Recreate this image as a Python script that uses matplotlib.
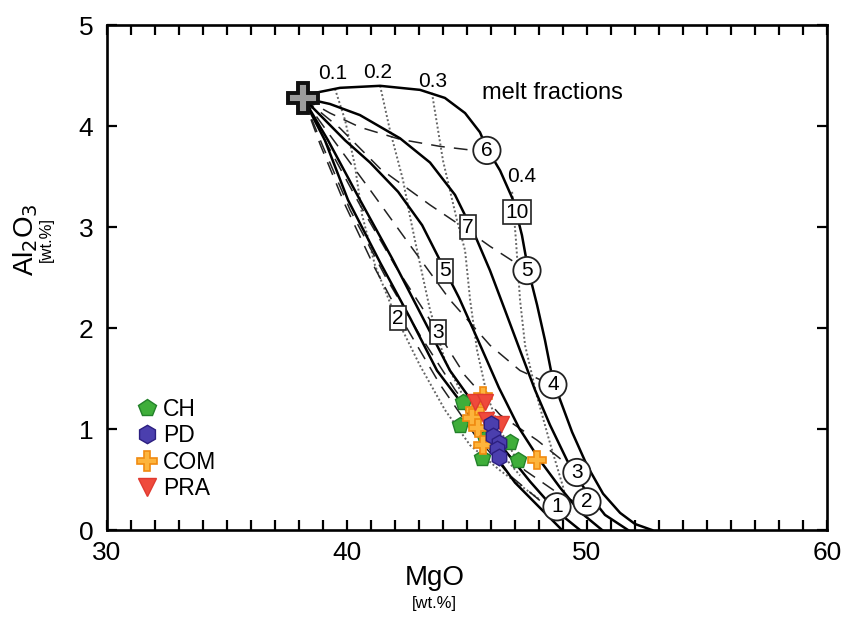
import matplotlib
matplotlib.use("Agg")
import matplotlib.pyplot as plt
from matplotlib.ticker import MultipleLocator

plt.rcParams['font.family'] = ['Liberation Sans', 'DejaVu Sans']

# ---- source composition ----
source = (38.17, 4.28)

# ---- residue trends (solid) ----
s1_x = [38.17, 38.67, 39.71, 41.38, 43.04, 44.08, 44.92, 45.54, 45.83, 46.38, 46.92, 47.29, 47.54, 47.92, 48.25, 48.54, 48.88, 49.38, 50.0, 50.67, 51.38, 52.0, 52.71]
s1_y = [4.28, 4.33, 4.38, 4.40, 4.36, 4.28, 4.13, 3.94, 3.78, 3.56, 3.27, 2.92, 2.59, 2.23, 1.88, 1.53, 1.29, 0.97, 0.64, 0.36, 0.17, 0.06, 0.0]
s2_x = [38.17, 39.29, 40.54, 42.21, 43.46, 44.5, 45.33, 45.96, 46.58, 47.21, 47.83, 48.46, 49.17, 49.92, 50.75, 51.71]
s2_y = [4.28, 4.22, 4.11, 3.88, 3.64, 3.32, 2.92, 2.57, 2.18, 1.78, 1.39, 1.04, 0.69, 0.40, 0.15, 0.0]
s3_x = [38.17, 38.88, 39.92, 40.96, 42.13, 43.13, 43.92, 44.67, 45.46, 46.33, 47.17, 48.04, 48.88, 49.71, 50.63]
s3_y = [4.28, 4.11, 3.86, 3.64, 3.35, 3.02, 2.65, 2.30, 1.88, 1.41, 1.01, 0.69, 0.42, 0.18, 0.0]
s4_x = [38.17, 39.21, 40.54, 41.88, 43.25, 44.29, 45.46, 46.58, 47.63, 48.67, 49.71]
s4_y = [4.28, 3.86, 3.27, 2.69, 2.06, 1.58, 1.19, 0.79, 0.48, 0.20, 0.0]
s5_x = [38.17, 39.08, 40.04, 41.38, 42.63, 43.75, 44.83, 45.96, 47.0, 48.04, 48.96]
s5_y = [4.28, 3.86, 3.27, 2.65, 2.10, 1.58, 1.24, 0.81, 0.47, 0.22, 0.0]
solid_x = [s1_x, s2_x, s3_x, s4_x, s5_x]
solid_y = [s1_y, s2_y, s3_y, s4_y, s5_y]

# ---- isobaric trends (dashed) ----
d6_x = [38.17, 39.29, 40.54, 42.21, 43.88, 45.29]
d6_y = [4.28, 4.13, 3.99, 3.87, 3.80, 3.76]
d5_x = [38.17, 39.71, 41.38, 43.46, 44.71, 45.96, 47.0]
d5_y = [4.28, 3.98, 3.58, 3.22, 3.02, 2.81, 2.65]
d4_x = [38.17, 39.29, 40.96, 42.63, 44.29, 45.96, 47.21, 48.04]
d4_y = [4.28, 3.91, 3.37, 2.82, 2.28, 1.83, 1.58, 1.49]
d3_x = [38.17, 39.08, 40.54, 42.0, 43.46, 44.92, 46.38, 47.92, 49.08]
d3_y = [4.28, 3.86, 3.22, 2.62, 2.08, 1.53, 1.14, 0.89, 0.67]
d2_x = [38.17, 38.96, 40.13, 41.58, 43.04, 44.5, 45.96, 47.42, 48.88, 49.5]
d2_y = [4.28, 3.82, 3.17, 2.52, 1.93, 1.39, 0.92, 0.59, 0.35, 0.28]
d1_x = [38.17, 38.88, 39.92, 41.17, 42.42, 43.88, 45.33, 46.79, 48.25]
d1_y = [4.28, 3.82, 3.22, 2.59, 2.03, 1.44, 0.94, 0.54, 0.25]
dashed_x = [d6_x, d5_x, d4_x, d3_x, d2_x, d1_x]
dashed_y = [d6_y, d5_y, d4_y, d3_y, d2_y, d1_y]

# ---- melt fraction contours (dotted) ----
f1_x = [39.5, 39.92, 40.33, 40.63, 41.17, 42.0, 43.04, 44.08, 45.13, 46.38, 48.04]
f1_y = [4.37, 4.06, 3.61, 3.12, 2.62, 2.13, 1.63, 1.19, 0.84, 0.59, 0.30]
f2_x = [41.38, 41.79, 42.33, 42.63, 42.92, 43.46, 44.08, 44.92, 45.96, 47.21]
f2_y = [4.40, 3.96, 3.47, 3.10, 2.77, 2.18, 1.68, 1.29, 0.89, 0.54]
f3_x = [43.54, 44.0, 44.58, 44.92, 45.13, 45.42, 45.83, 46.38, 47.21]
f3_y = [4.33, 3.66, 3.07, 2.77, 2.28, 1.78, 1.34, 0.99, 0.64]
f4_x = [46.88, 47.04, 47.21, 47.42, 47.92, 48.46, 49.0, 49.29]
f4_y = [3.35, 2.87, 2.28, 1.83, 1.32, 0.86, 0.43, 0.15]
dotted_x = [f1_x, f2_x, f3_x, f4_x]
dotted_y = [f1_y, f2_y, f3_y, f4_y]

melt_labels = ['0.1', '0.2', '0.3', '0.4']
melt_label_x = [39.42, 41.29, 43.58, 47.29]
melt_label_y = [4.52, 4.53, 4.44, 3.50]

circle_labels = ['6', '5', '4', '3', '2', '1']
circle_x = [45.83, 47.5, 48.58, 49.58, 50.0, 48.75]
circle_y = [3.76, 2.57, 1.44, 0.57, 0.28, 0.23]

box_labels = ['10', '7', '5', '3', '2']
box_x = [47.08, 45.04, 44.08, 43.79, 42.13]
box_y = [3.15, 3.0, 2.57, 1.96, 2.10]

# ---- samples ----
ch_mgo = [44.83, 44.71, 45.75, 46.79, 45.63, 47.13]
ch_al = [1.27, 1.04, 0.91, 0.87, 0.71, 0.69]
pd_mgo = [46.0, 46.08, 46.33, 46.25, 46.33]
pd_al = [1.05, 0.93, 0.86, 0.80, 0.72]
com_mgo = [45.67, 45.33, 45.21, 45.46, 45.67, 47.92]
com_al = [1.33, 1.19, 1.11, 1.01, 0.84, 0.69]
pra_mgo = [45.33, 45.75, 45.79, 46.42]
pra_al = [1.27, 1.27, 1.09, 1.05]

fig = plt.figure(figsize=(8.46, 6.31), dpi=100)
ax = fig.add_axes([0.1265, 0.16, 0.851, 0.800])

for xs, ys in zip(dotted_x, dotted_y):
    ax.plot(xs, ys, color='#666666', lw=1.4, ls=(0, (1, 1.2)), zorder=2)
for xs, ys in zip(dashed_x, dashed_y):
    ax.plot(xs, ys, color='#222222', lw=1.1, ls=(0, (9, 6)), zorder=2)
for xs, ys in zip(solid_x, solid_y):
    ax.plot(xs, ys, color='black', lw=1.8, zorder=3)

for t, x, y in zip(melt_labels, melt_label_x, melt_label_y):
    ax.text(x, y, t, fontsize=15, ha='center', va='center', zorder=6)
ax.text(48.58, 4.33, 'melt fractions', fontsize=17, ha='center', va='center', zorder=6)

for t, x, y in zip(circle_labels, circle_x, circle_y):
    ax.text(x, y, t, fontsize=15, ha='center', va='center', zorder=7,
            bbox=dict(boxstyle='circle,pad=0.2', fc='white', ec='#222222', lw=1.3))
for t, x, y in zip(box_labels, box_x, box_y):
    ax.text(x, y, t, fontsize=15, ha='center', va='center', zorder=7,
            bbox=dict(boxstyle='square,pad=0.12', fc='white', ec='#222222', lw=1.2))

ax.plot(*source, marker='P', ms=21, mfc='#9c9c9c', mec='#111111', mew=2.8, ls='none', zorder=8)

ax.plot(ch_mgo, ch_al, 'p', ms=12, mfc='#3fae3a', mec='#23812a', mew=1.0, ls='none', zorder=9, label='CH')
ax.plot(pd_mgo, pd_al, 'h', ms=12, mfc='#4b3fae', mec='#2c1f80', mew=1.0, ls='none', zorder=10, label='PD')
ax.plot(com_mgo, com_al, 'P', ms=13, mfc='#fdb43c', mec='#f08a10', mew=1.2, ls='none', zorder=9, label='COM')
ax.plot(pra_mgo, pra_al, 'v', ms=12, mfc='#ef4a3c', mec='#e03a30', mew=1.0, ls='none', zorder=9, label='PRA')

leg = ax.legend(loc='upper left', bbox_to_anchor=(0.035, 0.262), frameon=False,
                fontsize=16.5, handletextpad=0.05, labelspacing=0.15, borderaxespad=0,
                handlelength=1.3, borderpad=0, markerscale=1.1)

ax.set_xlim(30, 60)
ax.set_ylim(0, 5)
ax.xaxis.set_major_locator(MultipleLocator(10))
ax.xaxis.set_minor_locator(MultipleLocator(1))
ax.yaxis.set_major_locator(MultipleLocator(1))
ax.tick_params(which='both', direction='in', top=True, right=True, width=1.6, labelsize=19)
ax.tick_params(axis='x', pad=8)
ax.tick_params(axis='y', pad=10)
ax.tick_params(which='major', length=7.5)
ax.tick_params(which='minor', length=7.5)
for sp in ax.spines.values():
    sp.set_linewidth(1.9)

fig.text(0.030, 0.62, 'Al$_2$O$_3$', rotation=90, fontsize=20, ha='center', va='center')
fig.text(0.055, 0.62, '[wt.%]', rotation=90, fontsize=12, ha='center', va='center')
fig.text(0.514, 0.084, 'MgO', fontsize=20, ha='center', va='center')
fig.text(0.514, 0.043, '[wt.%]', fontsize=12, ha='center', va='center')

fig.savefig('out.png', dpi=100)
